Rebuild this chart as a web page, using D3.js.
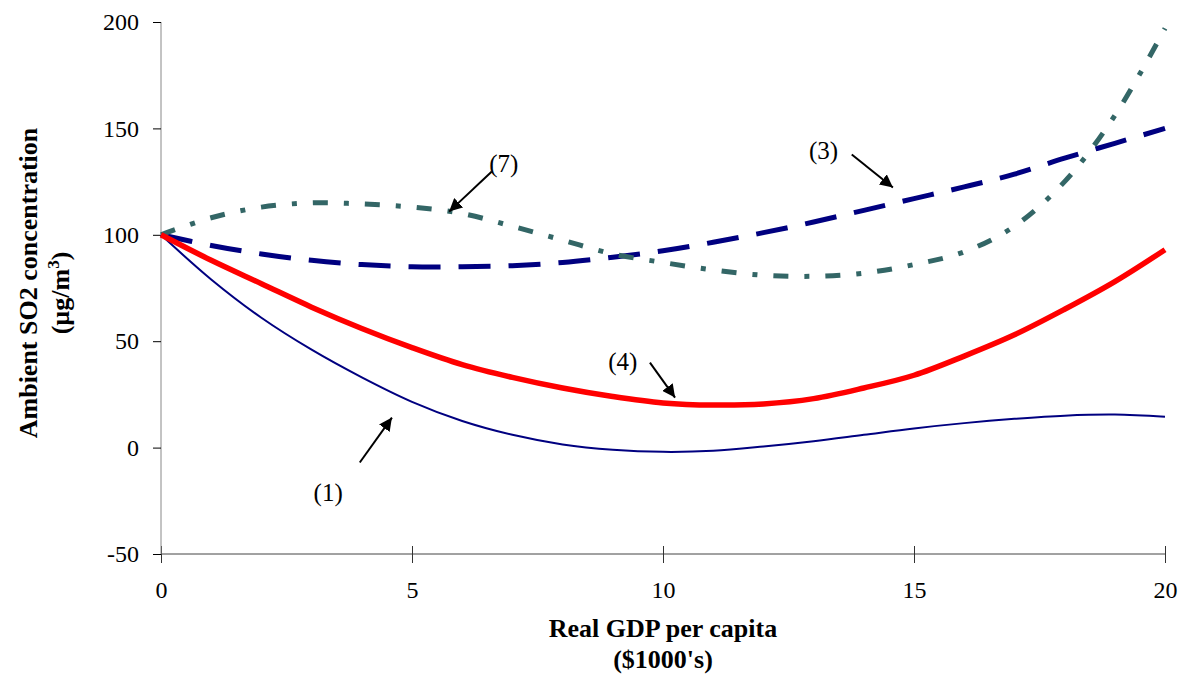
<!DOCTYPE html>
<html>
<head>
<meta charset="utf-8">
<script src="https://cdn.jsdelivr.net/npm/d3@7"></script>
<style>
  body { margin: 0; background: #fff; }
  text { font-family: "Liberation Serif", "Times New Roman", serif; }
</style>
</head>
<body>
<div id="chart"></div>
<script>
// GDP per capita ($1000's)
const gdp = [0, 1, 2, 3, 4, 5, 6, 7, 8, 9, 10, 11, 12, 13, 14, 15, 16, 17, 18, 19, 20];
// SO2 concentration for each model
const model1 = [100, 79, 61, 46, 33, 21.5, 12.5, 6, 1.5, -1, -2, -1.5, 0.5, 3, 6, 9, 11.5, 13.5, 15, 15.5, 14.5];
const model3 = [100, 95, 91, 88, 86, 85, 85, 85.5, 87, 89.5, 92.5, 96.5, 101, 106, 111.5, 117, 122.5, 128.5, 136, 143, 150];
const model4 = [100, 88, 77, 66, 56, 47, 39, 33, 28, 24, 21, 20, 20.5, 23, 28, 34, 43, 53, 65, 78, 93];
const model7 = [100, 108, 113, 115, 114.5, 113, 110, 104, 97.5, 91, 87, 83.5, 81, 80.5, 82, 86, 92, 104, 125, 156, 197];
const yTicks = [-50, 0, 50, 100, 150, 200];
const xTicks = [0, 5, 10, 15, 20];
// annotation labels and arrows (data units)
const labels = ["(1)", "(3)", "(4)", "(7)"];
const labelPos = [[3.33, -21], [13.2, 139.5], [9.2, 40.5], [6.83, 133.5]];
const arrowFrom = [[3.96, -7], [13.76, 137.7], [9.74, 39.9], [6.59, 129.7]];
const arrowTo = [[4.6, 14.1], [14.58, 122.2], [10.24, 23.5], [5.74, 110.9]];

const width = 1184, height = 676;
const margin = { top: 22, right: 19, bottom: 122, left: 161 };

const svg = d3.select("#chart").append("svg")
  .attr("width", width)
  .attr("height", height);

const x = d3.scaleLinear().domain([0, 20]).range([margin.left, width - margin.right]);
const y = d3.scaleLinear().domain([-50, 200]).range([height - margin.bottom, margin.top]);

svg.append("defs").append("marker")
  .attr("id", "arrow")
  .attr("viewBox", "0 0 10 10")
  .attr("refX", 10).attr("refY", 5)
  .attr("markerWidth", 13).attr("markerHeight", 13)
  .attr("markerUnits", "userSpaceOnUse")
  .attr("orient", "auto")
  .append("path")
  .attr("d", "M0,0L10,5L0,10Z")
  .attr("fill", "#000");

// x axis at bottom (y = -50)
const xAxis = svg.append("g")
  .attr("transform", "translate(0," + y(-50) + ")")
  .call(d3.axisBottom(x).tickValues(xTicks).tickSize(9).tickPadding(18).tickFormat(d => String(d)));
xAxis.select(".domain").attr("stroke", "#444").attr("d", "M" + x(0) + ",0H" + x(20));
xAxis.selectAll(".tick line").attr("y1", -8).attr("stroke", "#333");
xAxis.selectAll(".tick text").style("font-size", "24px").attr("fill", "#000");

// y axis at x = 0
const yAxis = svg.append("g")
  .attr("transform", "translate(" + x(0) + ",0)")
  .call(d3.axisLeft(y).tickValues(yTicks).tickSize(8).tickPadding(14).tickFormat(d => String(d)));
yAxis.select(".domain").attr("stroke", "#888").attr("d", "M0," + y(-50) + "V" + y(200));
yAxis.selectAll(".tick line").attr("stroke", "#000");
yAxis.selectAll(".tick text").style("font-size", "24px").attr("fill", "#000");

const line = d3.line()
  .x((d, i) => x(gdp[i]))
  .y(d => y(d))
  .curve(d3.curveCatmullRom);

svg.append("path").datum(model1)
  .attr("fill", "none").attr("stroke", "#000080").attr("stroke-width", 2)
  .attr("d", line);
svg.append("path").datum(model3)
  .attr("fill", "none").attr("stroke", "#000080").attr("stroke-width", 5)
  .attr("stroke-dasharray", "32,18")
  .attr("d", line);
svg.append("path").datum(model7)
  .attr("fill", "none").attr("stroke", "#336666").attr("stroke-width", 5)
  .attr("stroke-dasharray", "15,16,5,16")
  .attr("d", line);
svg.append("path").datum(model4)
  .attr("fill", "none").attr("stroke", "#ff0000").attr("stroke-width", 5.5)
  .attr("d", line);

// annotations
labels.forEach((t, i) => {
  svg.append("text")
    .attr("x", x(labelPos[i][0]))
    .attr("y", y(labelPos[i][1]))
    .attr("text-anchor", "middle")
    .attr("dominant-baseline", "central")
    .style("font-size", "25px")
    .text(t);
  svg.append("line")
    .attr("x1", x(arrowFrom[i][0])).attr("y1", y(arrowFrom[i][1]))
    .attr("x2", x(arrowTo[i][0])).attr("y2", y(arrowTo[i][1]))
    .attr("stroke", "#000").attr("stroke-width", 2)
    .attr("marker-end", "url(#arrow)");
});

// axis titles
svg.append("text")
  .attr("x", x(10)).attr("y", 637)
  .attr("text-anchor", "middle")
  .style("font-size", "26px").style("font-weight", "bold")
  .text("Real GDP per capita");
svg.append("text")
  .attr("x", x(10)).attr("y", 668)
  .attr("text-anchor", "middle")
  .style("font-size", "26px").style("font-weight", "bold")
  .text("($1000's)");

const yt = svg.append("g").attr("transform", "translate(37,283) rotate(-90)");
yt.append("text")
  .attr("text-anchor", "middle")
  .style("font-size", "26px").style("font-weight", "bold")
  .text("Ambient SO2 concentration");
const yt2 = yt.append("text")
  .attr("y", 32)
  .attr("x", -10)
  .attr("text-anchor", "middle")
  .style("font-size", "26px").style("font-weight", "bold");
yt2.append("tspan").text("(µg/m");
yt2.append("tspan").attr("dy", -10).style("font-size", "17px").text("3");
yt2.append("tspan").attr("dy", 10).text(")");
</script>
</body>
</html>
